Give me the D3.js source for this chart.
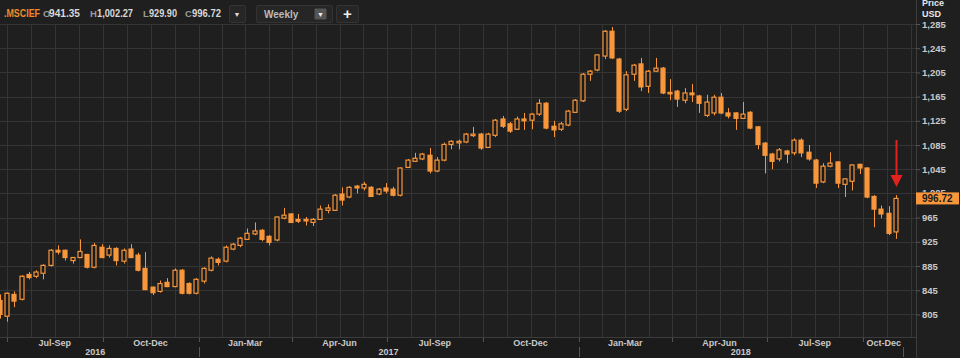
<!DOCTYPE html>
<html><head><meta charset="utf-8">
<script src="https://cdn.jsdelivr.net/npm/d3@7"></script>
<style>
html,body{margin:0;padding:0;background:#1f1f1f;overflow:hidden}
svg{display:block}
text{font-family:"Liberation Sans",Arial,Helvetica,sans-serif}
</style></head><body>
<svg id="chart" width="960" height="358"></svg>
<script>
// ---------- data ----------
const symbol = ".MSCIEF";
const firstWeek = "2016-06-24";
const opens  = [828,802,838,830,871,868,873,886,911,911,894,899,904,883,916,903,914,893,913,903,881,850,843,858,851,878,856,840,860,878,896,893,913,919,929,938,944,934,928,964,971,962,962,957,962,977,977,1004,999,1017,1014,1015,1004,1014,1012,1002,1048,1058,1062,1068,1042,1060,1086,1090,1090,1101,1103,1081,1101,1128,1120,1111,1128,1126,1136,1154,1116,1111,1118,1139,1158,1202,1209,1232,1273,1227,1144,1202,1219,1182,1207,1212,1172,1174,1159,1171,1166,1134,1138,1164,1138,1138,1129,1139,1115,1088,1070,1062,1075,1072,1093,1073,1060,1024,1050,1057,1020,1025,1053,1047,1000,979,972,941.35];
const highs  = [838,841,843,870,875,878,888,913,919,912,900,929,905,923,921,919,916,914,921,907,908,851,861,865,881,880,858,865,883,901,899,919,923,933,947,957,946,936,967,981,972,971,966,964,985,987,1004,1015,1017,1019,1024,1017,1014,1022,1016,1048,1062,1072,1072,1080,1065,1089,1093,1094,1105,1115,1105,1105,1128,1133,1123,1132,1138,1138,1161,1156,1125,1123,1143,1161,1204,1209,1235,1275,1280,1229,1207,1219,1229,1209,1229,1214,1194,1176,1179,1186,1168,1168,1168,1171,1146,1139,1156,1141,1116,1090,1072,1080,1077,1096,1096,1085,1062,1055,1073,1058,1030,1053,1054,1048,1002,985,984,1002.27];
const lows   = [798,793,817,828,863,865,863,884,904,894,889,898,881,881,898,899,886,889,898,876,845,837,841,850,850,838,838,838,856,876,886,891,911,916,928,936,926,919,926,962,956,956,952,951,961,972,976,985,997,1005,1010,999,1002,1005,1000,1000,1047,1057,1060,1038,1040,1058,1078,1078,1088,1098,1077,1080,1098,1113,1105,1110,1110,1111,1133,1111,1098,1108,1116,1138,1156,1191,1207,1227,1227,1138,1141,1191,1174,1171,1206,1169,1159,1148,1154,1156,1138,1131,1134,1136,1129,1110,1128,1111,1078,1038,1045,1058,1055,1068,1065,1059,1014,1022,1048,1014,999,1010,1037,997,949,964,936,929.90];
const closes = [805,840,827,868,866,875,886,911,908,899,899,909,883,919,899,914,894,911,899,878,846,841,856,851,878,840,840,863,881,898,891,916,921,931,939,943,929,924,966,969,957,959,961,962,979,981,1002,994,1015,1014,1020,1000,1012,1009,1002,1047,1060,1063,1070,1042,1060,1086,1091,1091,1103,1103,1080,1103,1126,1116,1108,1128,1125,1136,1154,1113,1110,1120,1141,1159,1202,1207,1234,1273,1229,1141,1201,1217,1181,1207,1212,1171,1171,1161,1171,1168,1154,1156,1164,1138,1133,1129,1136,1113,1086,1068,1058,1077,1070,1093,1072,1062,1022,1050,1055,1022,1029,1052,1047,999,979,971,939,996.72];
const priceTicks = [805,845,885,925,965,1005,1045,1085,1125,1165,1205,1245,1285];
const quarterNames = ["Jan-Mar","Apr-Jun","Jul-Sep","Oct-Dec"];
const years = [2016,2017,2018];
const headerLabels = ["O","H","L","C"];
const headerValues = ["941.35","1,002.27","929.90","996.72"];
const intervalLabel = "Weekly";
const lastPrice = 996.72;
const lastPriceLabel = "996.72";

// ---------- layout ----------
const W = 960, H = 358;
const plotRight = 916, axisY = 337, plotTop = 24;
const orange = "#f7963b", bg = "#1f1f1f", grid = "#353535", txt = "#c9c9c9";

const svg = d3.select("#chart");
svg.append("rect").attr("width", W).attr("height", H).attr("fill", bg);

const x = d3.scaleTime()
  .domain([new Date(2017,0,1), new Date(2018,0,1)])
  .range([198.5, 578.5]);
const y = d3.scaleLinear().domain([805,1285]).range([314.4,24]);

const t0 = d3.timeParse("%Y-%m-%d")(firstWeek);
const data = opens.map((o,i)=>({
  date: d3.timeDay.offset(t0, 7*i), o, h: highs[i], l: lows[i], c: closes[i]
}));

const qStarts = d3.timeMonth.every(3).range(new Date(2016,3,1), new Date(2019,3,1));
const qx = qStarts.map(d=>x(d));

svg.append("rect").attr("x",0).attr("y",axisY).attr("width",plotRight).attr("height",H-axisY).attr("fill","#1b1b1b");

const gridX = [];
for (let k=0;k<qx.length-1;k++){
  for (let j=0;j<4;j++){
    const gx = qx[k] + (qx[k+1]-qx[k])*j/4;
    if (gx>0 && gx<plotRight) gridX.push(gx);
  }
}
svg.append("g").selectAll("line").data(gridX).join("line")
  .attr("x1",d=>Math.round(d)+0.5).attr("x2",d=>Math.round(d)+0.5)
  .attr("y1",plotTop).attr("y2",axisY)
  .attr("stroke",grid).attr("stroke-width",1);

svg.append("g").selectAll("line").data(priceTicks).join("line")
  .attr("x1",0).attr("x2",plotRight)
  .attr("y1",d=>Math.round(y(d))+0.5).attr("y2",d=>Math.round(y(d))+0.5)
  .attr("stroke",grid).attr("stroke-width",1);

svg.append("line").attr("x1",plotRight+0.5).attr("x2",plotRight+0.5).attr("y1",0).attr("y2",H)
  .attr("stroke","#3c3c3c");
svg.append("line").attr("x1",0).attr("x2",plotRight).attr("y1",axisY+0.5).attr("y2",axisY+0.5)
  .attr("stroke","#3c3c3c");

// clip for labels hidden under the last-price tag
const tagTop = y(lastPrice)-6;
svg.append("clipPath").attr("id","aboveTag").append("rect").attr("x",plotRight).attr("y",0).attr("width",60).attr("height",tagTop);

// right axis
const yAxis = d3.axisRight(y).tickValues(priceTicks).tickSize(4).tickFormat(d3.format(","));
const ya = svg.append("g").attr("transform",`translate(${plotRight},0)`).call(yAxis);
ya.select(".domain").remove();
ya.selectAll(".tick line").attr("stroke","#555");
ya.selectAll(".tick text").attr("x",6).attr("fill",txt).attr("font-size",9.5).attr("font-weight","bold")
  .attr("font-family",'"Liberation Sans",Arial,sans-serif');
svg.append("text").attr("x",922).attr("y",6).attr("fill","#e6e6e6").attr("font-size",9).attr("font-weight","bold").text("Price");
svg.append("text").attr("x",922).attr("y",17).attr("fill","#e6e6e6").attr("font-size",9).attr("font-weight","bold").text("USD");

// candles
const bw = 5;
const cg = svg.append("g");
cg.selectAll("line").data(data).join("line")
  .attr("x1",d=>Math.round(x(d.date))+0.5).attr("x2",d=>Math.round(x(d.date))+0.5)
  .attr("y1",d=>y(d.h)).attr("y2",d=>y(d.l))
  .attr("stroke",orange).attr("stroke-width",1);
cg.selectAll("rect").data(data).join("rect")
  .attr("x",d=>Math.round(x(d.date))-2)
  .attr("y",d=>y(Math.max(d.o,d.c)))
  .attr("width",bw-1)
  .attr("height",d=>Math.max(1.5, Math.abs(y(d.o)-y(d.c))))
  .attr("fill",d=>d.c>d.o ? "#1a1a1a" : orange)
  .attr("stroke",orange).attr("stroke-width",1.2);

// x axis
const leftEdge = -8, rightEdge = 905;
for (let k=0;k<qStarts.length;k++){
  const xs = qx[k];
  const xe = k+1<qx.length ? qx[k+1] : rightEdge;
  if (xs>0 && xs<rightEdge){
    svg.append("line").attr("x1",Math.round(xs)+0.5).attr("x2",Math.round(xs)+0.5)
      .attr("y1",axisY+1).attr("y2",axisY+5).attr("stroke","#555");
  }
  const a = Math.max(xs,leftEdge), b = Math.min(xe,rightEdge);
  if (b-a>20 && a<rightEdge){
    svg.append("text").attr("x",(a+b)/2).attr("y",345.5).attr("text-anchor","middle")
      .attr("fill",txt).attr("font-size",9).attr("font-weight","bold")
      .text(quarterNames[qStarts[k].getMonth()/3]);
  }
}
years.forEach(yr=>{
  const a = Math.max(x(new Date(yr,0,1)),leftEdge);
  const b = Math.min(x(new Date(yr+1,0,1)),rightEdge-2);
  svg.append("text").attr("x",(a+b)/2).attr("y",355).attr("text-anchor","middle")
    .attr("fill",txt).attr("font-size",9).attr("font-weight","bold").text(yr);
  if (yr>years[0]) svg.append("line").attr("x1",Math.round(a)+0.5).attr("x2",Math.round(a)+0.5)
    .attr("y1",347).attr("y2",357).attr("stroke","#555");
});
svg.append("line").attr("x1",903.5).attr("x2",903.5).attr("y1",347).attr("y2",357).attr("stroke","#555");

// last price tag; tick labels under it are clipped to the part above the tag
ya.selectAll(".tick text").filter(d=>Math.abs(y(d)-y(lastPrice))<9)
  .attr("clip-path",null);
ya.selectAll(".tick").filter(d=>Math.abs(y(d)-y(lastPrice))<9)
  .select("text").each(function(d){
    const t = d3.select(this);
    const g = ya.append("g").attr("clip-path","url(#aboveTagLocal)");
    g.node().appendChild(this);
    t.attr("transform",`translate(0,${y(d)})`);
  });
ya.append("clipPath").attr("id","aboveTagLocal").append("rect").attr("x",0).attr("y",0).attr("width",60).attr("height",tagTop);
svg.append("rect").attr("x",plotRight).attr("y",tagTop).attr("width",43).attr("height",12).attr("fill",orange);
svg.append("text").attr("x",922).attr("y",y(lastPrice)+4).attr("fill","#1a1a1a").attr("font-size",10).attr("font-weight","bold").text(lastPriceLabel);

// red arrow
const lastX = Math.round(x(data[data.length-1].date))+0.5;
svg.append("line").attr("x1",lastX).attr("x2",lastX).attr("y1",140).attr("y2",177)
  .attr("stroke","#e2231d").attr("stroke-width",2);
svg.append("path").attr("d",`M${lastX-6},175L${lastX+6},175L${lastX},187Z`).attr("fill","#e2231d");

// header
const hd = svg.append("g");
hd.append("text").attr("x",4).attr("y",17).attr("fill","#f08a2c").attr("font-size",10).attr("font-weight","bold")
  .attr("textLength",36).attr("lengthAdjust","spacingAndGlyphs").text(symbol);
const labelX = [43,90,143,185];
const valueX = [49,97,149,192];
const valueW = [31,36,28,29];
headerLabels.forEach((l,i)=>{
  hd.append("text").attr("x",labelX[i]).attr("y",17).attr("fill","#9a9a9a").attr("font-size",9.5).attr("font-weight","bold").text(l);
  hd.append("text").attr("x",valueX[i]).attr("y",17).attr("fill","#d8d8d8").attr("font-size",10.5).attr("font-weight","bold")
    .attr("textLength",valueW[i]).attr("lengthAdjust","spacingAndGlyphs").text(headerValues[i]);
});
function box(x0,w){ hd.append("rect").attr("x",x0+0.5).attr("y",5.5).attr("width",w).attr("height",17)
  .attr("fill","#262626").attr("stroke","#333").attr("rx",1.5); }
box(229,16);
hd.append("text").attr("x",237).attr("y",17).attr("text-anchor","middle").attr("fill","#ddd").attr("font-size",7).text("▼");
box(256,76);
hd.append("text").attr("x",264).attr("y",17.5).attr("fill","#bbb").attr("font-size",10).attr("font-weight","bold").text(intervalLabel);
hd.append("rect").attr("x",314.5).attr("y",8.5).attr("width",12).attr("height",11).attr("fill","#555").attr("rx",1);
hd.append("text").attr("x",320.5).attr("y",17).attr("text-anchor","middle").attr("fill","#eee").attr("font-size",7).text("▼");
box(336,22);
hd.append("text").attr("x",347.5).attr("y",19).attr("text-anchor","middle").attr("fill","#eee").attr("font-size",15).attr("font-weight","bold").text("+");
</script>
</body></html>
